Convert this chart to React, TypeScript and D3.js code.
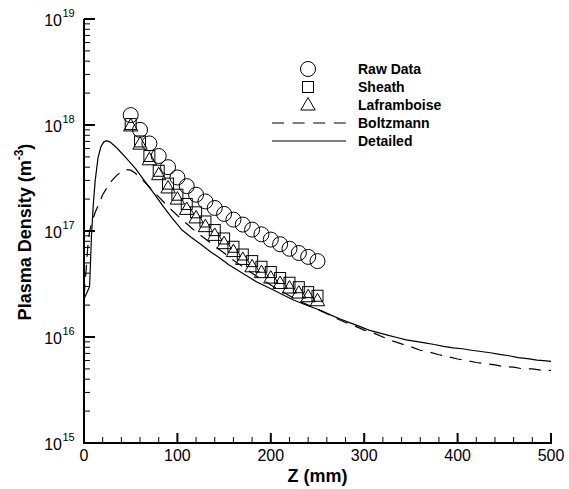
import * as d3 from 'd3';

const W = 569;
const H = 489;

// sampled at z = 50, 60, ... 250 mm
const probeZ = [50, 60, 70, 80, 90, 100, 110, 120, 130, 140, 150, 160, 170, 180, 190, 200, 210, 220, 230, 240, 250];
const rawData = [1.24e18, 9.0e17, 6.7e17, 5.1e17, 4.0e17, 3.2e17, 2.65e17, 2.2e17, 1.9e17, 1.65e17, 1.45e17, 1.28e17, 1.15e17, 1.03e17, 9.3e16, 8.3e16, 7.5e16, 6.8e16, 6.2e16, 5.7e16, 5.2e16];
const sheath = [1.02e18, 7.0e17, 5.1e17, 3.7e17, 2.8e17, 2.2e17, 1.8e17, 1.5e17, 1.23e17, 1.02e17, 8.5e16, 7.1e16, 6.0e16, 5.2e16, 4.6e16, 4.1e16, 3.6e16, 3.25e16, 2.95e16, 2.65e16, 2.45e16];
const laframboise = [9.8e17, 6.6e17, 4.7e17, 3.4e17, 2.55e17, 2.0e17, 1.6e17, 1.33e17, 1.1e17, 9.1e16, 7.6e16, 6.4e16, 5.4e16, 4.6e16, 4.05e16, 3.6e16, 3.2e16, 2.9e16, 2.6e16, 2.4e16, 2.2e16];

const boltzZ = [0, 2, 4, 6, 9, 12, 16, 20, 25, 30, 35, 40, 45, 50, 55, 60, 70, 80, 90, 100, 110, 120, 130, 140, 150, 160, 170, 180, 190, 200, 210, 220, 230, 240, 250, 260, 270, 280, 290, 300, 310, 320, 330, 340, 350, 360, 370, 380, 390, 400, 410, 420, 430, 440, 450, 460, 470, 480, 490, 500];
const boltzmann = [2.4e16, 4e16, 7e16, 1.0e17, 1.25e17, 1.5e17, 1.8e17, 2.2e17, 2.6e17, 3.0e17, 3.35e17, 3.6e17, 3.8e17, 3.75e17, 3.5e17, 3.2e17, 2.6e17, 2.1e17, 1.7e17, 1.4e17, 1.17e17, 9.8e16, 8.4e16, 7.2e16, 6.2e16, 5.3e16, 4.6e16, 4.0e16, 3.5e16, 3.1e16, 2.75e16, 2.45e16, 2.2e16, 2.0e16, 1.82e16, 1.66e16, 1.5e16, 1.37e16, 1.27e16, 1.16e16, 1.09e16, 1.0e16, 9.2e15, 8.6e15, 8.1e15, 7.5e15, 7.2e15, 6.8e15, 6.5e15, 6.2e15, 6.0e15, 5.75e15, 5.6e15, 5.45e15, 5.25e15, 5.2e15, 5.0e15, 5.0e15, 4.85e15, 4.85e15];

const detailZ = [0, 3, 6, 8, 10, 12, 15, 18, 21, 24, 28, 35, 45, 55, 65, 75, 85, 95, 105, 115, 125, 135, 145, 155, 165, 175, 185, 195, 205, 215, 225, 235, 245, 255, 265, 275, 285, 295, 305, 315, 325, 335, 345, 355, 365, 375, 385, 395, 405, 415, 425, 435, 445, 455, 465, 475, 485, 495, 500];
const detailed = [2.3e16, 2.6e16, 3.0e16, 9e16, 1.8e17, 3.0e17, 4.9e17, 6.2e17, 6.9e17, 7.1e17, 6.9e17, 6.1e17, 4.9e17, 3.9e17, 2.95e17, 2.25e17, 1.7e17, 1.3e17, 1.02e17, 8.7e16, 7.5e16, 6.4e16, 5.6e16, 4.8e16, 4.25e16, 3.75e16, 3.3e16, 3.0e16, 2.72e16, 2.45e16, 2.22e16, 2.05e16, 1.9e16, 1.76e16, 1.6e16, 1.47e16, 1.36e16, 1.26e16, 1.16e16, 1.1e16, 1.04e16, 9.9e15, 9.4e15, 9.1e15, 8.8e15, 8.5e15, 8.15e15, 7.9e15, 7.75e15, 7.5e15, 7.3e15, 7.1e15, 6.85e15, 6.65e15, 6.4e15, 6.25e15, 6.05e15, 5.95e15, 5.9e15];

const xTicks = [0, 100, 200, 300, 400, 500];
const yExponents = [15, 16, 17, 18, 19];
const legendItems = ['Raw Data', 'Sheath', 'Laframboise', 'Boltzmann', 'Detailed'];

const left = 84;
const right = 551;
const top = 19;
const bottom = 443;

export default function App() {
  const x = d3.scaleLinear().domain([0, 500]).range([left, right]);
  const y = d3.scaleLog().domain([1e15, 1e19]).range([bottom, top]);

  const line = d3
    .line<[number, number]>()
    .x((d) => x(d[0]))
    .y((d) => y(d[1]));

  const boltzPath = line(boltzZ.map((z, i) => [z, boltzmann[i]]));
  const detailPath = line(detailZ.map((z, i) => [z, detailed[i]]));

  const xMinor = d3.range(0, 501, 20).filter((v) => v % 100 !== 0);
  const yMinor: number[] = [];
  for (let e = 15; e < 19; e++) {
    for (let m = 2; m <= 9; m++) yMinor.push(m * Math.pow(10, e));
  }

  const tri = (cx: number, cy: number, s: number) =>
    `M${cx},${cy - s * 0.62}L${cx + s * 0.6},${cy + s * 0.42}L${cx - s * 0.6},${cy + s * 0.42}Z`;

  const font = 'Liberation Sans, Arial, sans-serif';
  const legX = 308;
  const legY = (i: number) => 69 + i * 18;

  return (
    <svg width={W} height={H} style={{ position: 'absolute', left: 0, top: 0, background: '#fff' }} fontFamily={font}>
      {/* curves */}
      <path d={detailPath || ''} fill="none" stroke="#000" strokeWidth={1.2} />
      <path d={boltzPath || ''} fill="none" stroke="#000" strokeWidth={1.2} strokeDasharray="12,8" />

      {/* markers */}
      {probeZ.map((z, i) => (
        <circle key={'c' + i} cx={x(z)} cy={y(rawData[i])} r={7.5} fill="none" stroke="#000" strokeWidth={1} />
      ))}
      {probeZ.map((z, i) => (
        <rect key={'s' + i} x={x(z) - 5.5} y={y(sheath[i]) - 5.5} width={11} height={11} fill="none" stroke="#000" strokeWidth={1} />
      ))}
      {probeZ.map((z, i) => (
        <path key={'t' + i} d={tri(x(z), y(laframboise[i]), 12)} fill="none" stroke="#000" strokeWidth={1} />
      ))}

      {/* axes */}
      <line x1={left} x2={left} y1={top} y2={bottom + 1} stroke="#000" strokeWidth={2} />
      <line x1={left - 1} x2={right + 1} y1={bottom} y2={bottom} stroke="#000" strokeWidth={2} />
      {xTicks.map((t) => (
        <g key={'xt' + t}>
          <line x1={x(t)} x2={x(t)} y1={bottom} y2={bottom - 10} stroke="#000" strokeWidth={2} />
          <text x={x(t)} y={bottom + 18} textAnchor="middle" fontSize={16}>
            {t}
          </text>
        </g>
      ))}
      {xMinor.map((t) => (
        <line key={'xm' + t} x1={x(t)} x2={x(t)} y1={bottom} y2={bottom - 6} stroke="#000" strokeWidth={1} />
      ))}
      {yExponents.map((e) => (
        <g key={'yt' + e}>
          <line x1={left} x2={left + 11} y1={y(Math.pow(10, e))} y2={y(Math.pow(10, e))} stroke="#000" strokeWidth={2} />
          <text x={62} y={y(Math.pow(10, e)) + 7} textAnchor="end" fontSize={16}>
            10
          </text>
          <text x={62.5} y={y(Math.pow(10, e)) - 2} textAnchor="start" fontSize={11}>
            {e}
          </text>
        </g>
      ))}
      {yMinor.map((v, i) => (
        <line key={'ym' + i} x1={left} x2={left + 6} y1={y(v)} y2={y(v)} stroke="#000" strokeWidth={1} />
      ))}

      {/* axis titles */}
      <text x={(left + right) / 2} y={482} textAnchor="middle" fontSize={18} fontWeight="bold">
        Z (mm)
      </text>
      <text transform="translate(31,232) rotate(-90)" textAnchor="middle" fontSize={18} fontWeight="bold">
        Plasma Density (m
        <tspan dy={-8} fontSize={12}>-3</tspan>
        <tspan dy={8}>)</tspan>
      </text>

      {/* legend */}
      <circle cx={legX} cy={legY(0)} r={7.5} fill="none" stroke="#000" strokeWidth={1} />
      <rect x={legX - 5.5} y={legY(1) - 5.5} width={11} height={11} fill="none" stroke="#000" strokeWidth={1} />
      <path d={tri(legX, legY(2), 12)} fill="none" stroke="#000" strokeWidth={1} />
      <line x1={272} x2={346} y1={legY(3)} y2={legY(3)} stroke="#000" strokeWidth={1.2} strokeDasharray="12,8.6" />
      <line x1={272} x2={346} y1={legY(4)} y2={legY(4)} stroke="#000" strokeWidth={1.2} />
      {legendItems.map((s, i) => (
        <text key={s} x={358} y={legY(i) + 5} fontSize={14} fontWeight="bold">
          {s}
        </text>
      ))}
    </svg>
  );
}
